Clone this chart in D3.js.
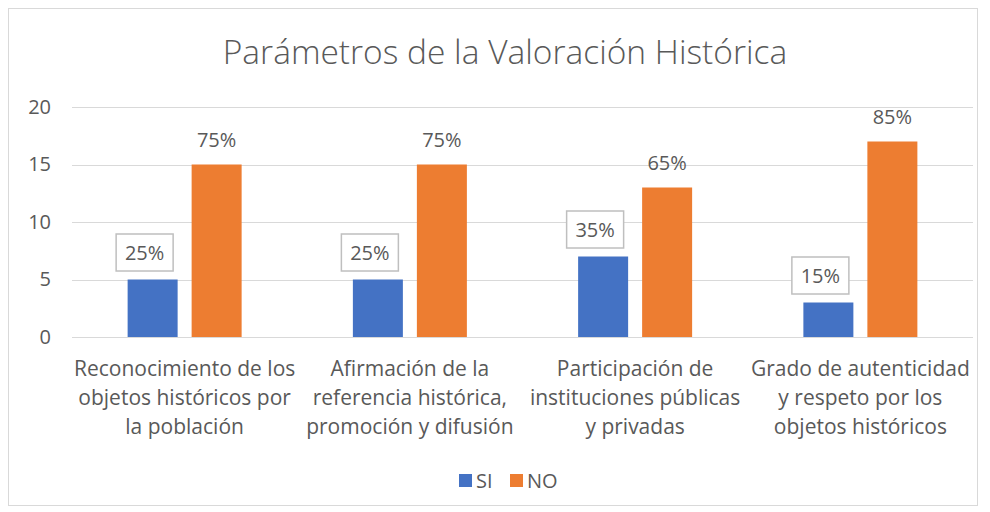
<!DOCTYPE html>
<html>
<head>
<meta charset="utf-8">
<script src="https://cdn.jsdelivr.net/npm/d3@7"></script>
<style>
    body { margin: 0; background: #fff; }
    text { font-family: "Open Sans", "Noto Sans", sans-serif; fill: #595959; }
</style>
</head>
<body>
<div id="chart"></div>
<script>
// Data
let categories = [
    ['Reconocimiento de los', 'objetos históricos por', 'la población'],
    ['Afirmación de la', 'referencia histórica,', 'promoción y difusión'],
    ['Participación de', 'instituciones públicas', 'y privadas'],
    ['Grado de autenticidad', 'y respeto por los', 'objetos históricos']
];
let seriesNames = ['SI', 'NO'];
let siValues = [5, 5, 7, 3];
let noValues = [15, 15, 13, 17];
let siLabels = ['25%', '25%', '35%', '15%'];
let noLabels = ['75%', '75%', '65%', '85%'];
let yTicks = [0, 5, 10, 15, 20];

let width = 990,
    height = 512,
    margin = {top: 107, right: 17, bottom: 175, left: 72},
    colors = ['#4472c4', '#ed7d31'],
    fontSize = '20px';

let chartWidth = width - margin.left - margin.right,
    chartHeight = height - margin.top - margin.bottom;

let svg = d3.select('#chart')
    .append('svg')
    .attr('width', width)
    .attr('height', height);

// Chart border
svg.append('rect')
    .attr('x', 8.5)
    .attr('y', 8.5)
    .attr('width', 969)
    .attr('height', 497)
    .attr('fill', '#fff')
    .attr('stroke', '#d9d9d9');

svg.append('text')
    .attr('x', 505)
    .attr('y', 64)
    .attr('text-anchor', 'middle')
    .style('font-size', '33.5px')
    .style('font-weight', 300)
    .text('Parámetros de la Valoración Histórica');

let canvas = svg.append('g')
    .attr('transform', 'translate(' + margin.left + ',' + margin.top + ')');

let x = d3.scaleBand()
    .domain(d3.range(categories.length))
    .range([0, chartWidth]);

let y = d3.scaleLinear()
    .domain([0, 20])
    .range([chartHeight, 0]);

// Gridlines
canvas.selectAll('.grid')
    .data(yTicks)
    .enter()
    .append('line')
    .attr('x1', 0)
    .attr('x2', chartWidth)
    .attr('y1', d => Math.round(y(d)) + 0.5)
    .attr('y2', d => Math.round(y(d)) + 0.5)
    .style('stroke', '#d9d9d9')
    .style('stroke-width', 1);

// Y axis labels
let yAxis = d3.axisLeft(y).tickValues(yTicks).tickSize(0).tickPadding(21);
canvas.append('g')
    .call(yAxis)
    .call(g => g.select('.domain').remove())
    .selectAll('text')
    .style('font-family', '"Open Sans", sans-serif')
    .style('font-size', fontSize)
    .style('fill', '#595959');

let barWidth = 50,
    barGap = 14;

function barX(i, s) {
    let center = x(i) + x.bandwidth() / 2;
    return s === 0 ? center - barGap / 2 - barWidth : center + barGap / 2;
}

canvas.selectAll('.bar-si')
    .data(siValues)
    .enter()
    .append('rect')
    .attr('x', (d, i) => barX(i, 0))
    .attr('y', d => y(d))
    .attr('width', barWidth)
    .attr('height', d => chartHeight - y(d))
    .attr('fill', colors[0]);

canvas.selectAll('.bar-no')
    .data(noValues)
    .enter()
    .append('rect')
    .attr('x', (d, i) => barX(i, 1))
    .attr('y', d => y(d))
    .attr('width', barWidth)
    .attr('height', d => chartHeight - y(d))
    .attr('fill', colors[1]);

// SI labels in boxes
let siLabelGroups = canvas.selectAll('.label-si')
    .data(siValues)
    .enter()
    .append('g')
    .attr('transform', (d, i) => 'translate(' + (barX(i, 0) + barWidth / 2 - 8) + ',' + (y(d) - 27) + ')');

siLabelGroups.append('rect')
    .attr('x', -28.5)
    .attr('y', -18.5)
    .attr('width', 57)
    .attr('height', 37)
    .attr('fill', '#fff')
    .attr('stroke', '#bfbfbf')
    .attr('stroke-width', 1.5);

siLabelGroups.append('text')
    .attr('text-anchor', 'middle')
    .attr('dy', '0.35em')
    .style('font-size', fontSize)
    .text((d, i) => siLabels[i]);

canvas.selectAll('.label-no')
    .data(noValues)
    .enter()
    .append('text')
    .attr('x', (d, i) => barX(i, 1) + barWidth / 2)
    .attr('y', d => y(d) - 25)
    .attr('text-anchor', 'middle')
    .attr('dy', '0.35em')
    .style('font-size', fontSize)
    .text((d, i) => noLabels[i]);

// X axis labels
categories.forEach(function(lines, i) {
    let t = canvas.append('text')
        .attr('x', x(i) + x.bandwidth() / 2)
        .attr('y', chartHeight + 39)
        .attr('text-anchor', 'middle')
        .style('font-size', '21px');
    lines.forEach(function(line, j) {
        t.append('tspan')
            .attr('x', x(i) + x.bandwidth() / 2)
            .attr('dy', j === 0 ? 0 : 29)
            .text(line);
    });
});

// Legend
let legend = svg.append('g')
    .attr('transform', 'translate(459,474)');

seriesNames.forEach(function(name, i) {
    let offset = i * 51;
    legend.append('rect')
        .attr('x', offset)
        .attr('y', 0)
        .attr('width', 13)
        .attr('height', 13)
        .attr('fill', colors[i]);
    legend.append('text')
        .attr('x', offset + 17)
        .attr('y', 7)
        .attr('dy', '0.35em')
        .style('font-size', fontSize)
        .text(name);
});
</script>
</body>
</html>
